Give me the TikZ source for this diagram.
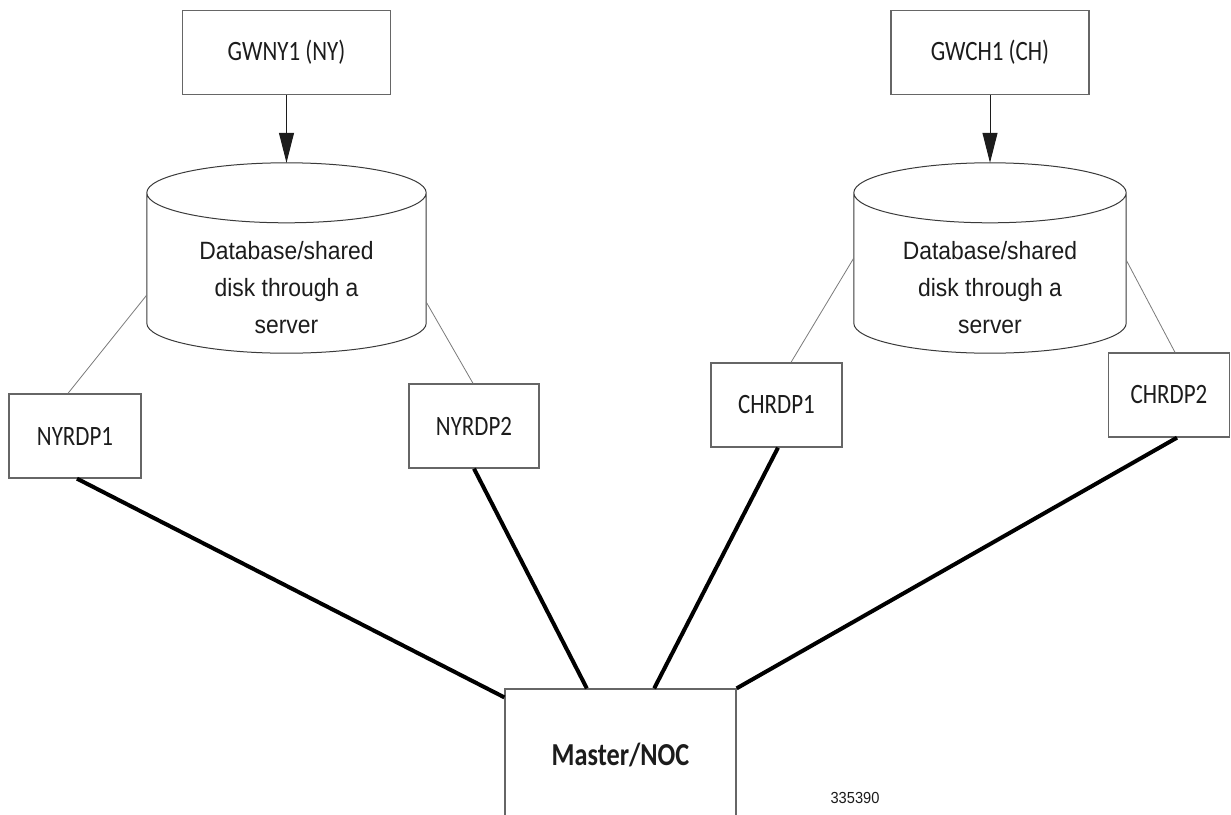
\documentclass[tikz,border=0pt]{standalone}
\usepackage{fontspec}
\usetikzlibrary{arrows.meta,calc}
\newfontfamily\boxfont{Carlito}[FakeStretch=0.82]
\newfontfamily\dbfont{Liberation Sans}[FakeStretch=0.915]
\definecolor{Ink}{HTML}{1C1C1C}
\definecolor{Frame}{HTML}{666666}
\definecolor{Rim}{HTML}{3A3A3A}
\definecolor{Thin}{HTML}{7A7A7A}
\tikzset{
  sitebox/.style={draw=Frame,line width=1.3pt,fill=white,minimum height=84pt,inner sep=0pt,align=center,text=Ink,font=\boxfont\fontsize{28}{30}\selectfont},
  masterbox/.style={sitebox,minimum width=231pt,minimum height=132pt,font=\boxfont\bfseries\fontsize{32}{34}\selectfont},
  diskbody/.style={minimum height=130pt,inner sep=0pt,align=center,text=Ink,font=\dbfont\fontsize{25}{37}\selectfont},
  diskrim/.style={draw=Rim,line width=1pt},
  feed/.style={-{Triangle[length=30pt,width=15pt]},draw=Ink,line width=1pt},
  softlink/.style={draw=Thin,line width=0.8pt},
  hardlink/.style={draw=black,line width=4pt}
}
% cylinder outline round a disk node
\newcommand\drawdisk[1]{%
  \draw[diskrim] let \p1=(#1.west), \p2=(#1.east), \n1={(\x2-\x1)/2} in
    ([yshift=30pt]#1.north west) -- ([yshift=30pt]#1.south west)
    arc[start angle=180,end angle=360,x radius=\n1,y radius=30pt] -- ([yshift=30pt]#1.north east)
    ([yshift=30pt]#1.north) ellipse[x radius=\n1,y radius=30pt];
}

\begin{document}
\begin{tikzpicture}[x=1pt,y=1pt]
  \useasboundingbox (0,0) rectangle (1231,-814);
  \clip (0,0) rectangle (1231,-814);

  % gateways and shared disks
  \node[sitebox,minimum width=208pt] (gwny) at (286.5,-52.5) {GWNY1 (NY)};
  \node[sitebox,minimum width=198pt] (gwch) at (990,-52.5) {GWCH1 (CH)};
  \node[diskbody,minimum width=279pt] (nydb) at (286.5,-288) {Database/shared\\disk through a\\server};
  \node[diskbody,minimum width=272pt] (chdb) at (990,-288) {Database/shared\\disk through a\\server};
  \drawdisk{nydb}
  \drawdisk{chdb}
  \draw[feed] (gwny.south) -- ([yshift=60pt]nydb.north);
  \draw[feed] (gwch.south) -- ([yshift=60pt]chdb.north);

  % RDP servers
  \node[sitebox,minimum width=132pt] (nyrdp1) at (75,-436) {NYRDP1};
  \node[sitebox,minimum width=130pt] (nyrdp2) at (474,-426) {NYRDP2};
  \node[sitebox,minimum width=131pt] (chrdp1) at (776.5,-405) {CHRDP1};
  \node[sitebox,minimum width=121pt] (chrdp2) at (1169,-395) {CHRDP2};
  \draw[softlink] ([yshift=-7pt]nydb.west) -- ([xshift=-7pt]nyrdp1.north);
  \draw[softlink] ([yshift=-14pt]nydb.east) -- ([xshift=-1pt]nyrdp2.north);
  \draw[softlink] ([yshift=30pt]chdb.west) -- ([xshift=14.5pt]chrdp1.north);
  \draw[softlink] ([yshift=28pt]chdb.east) -- ([xshift=6pt]chrdp2.north);

  % master
  \node[masterbox] (master) at (620.5,-755) {Master/NOC};
  \draw[hardlink] ([xshift=2pt]nyrdp1.south) -- ([yshift=-9pt]master.north west);
  \draw[hardlink] (nyrdp2.south) -- ($(master.north west)!0.355!(master.north east)$);
  \draw[hardlink] ([xshift=1.5pt]chrdp1.south) -- ($(master.north west)!0.645!(master.north east)$);
  \draw[hardlink] ([xshift=8pt]chrdp2.south) -- (master.north east);

  \node[font=\dbfont\fontsize{16}{18}\selectfont,text=Ink] (figid) at (855,-798) {335390};
\end{tikzpicture}
\end{document}
